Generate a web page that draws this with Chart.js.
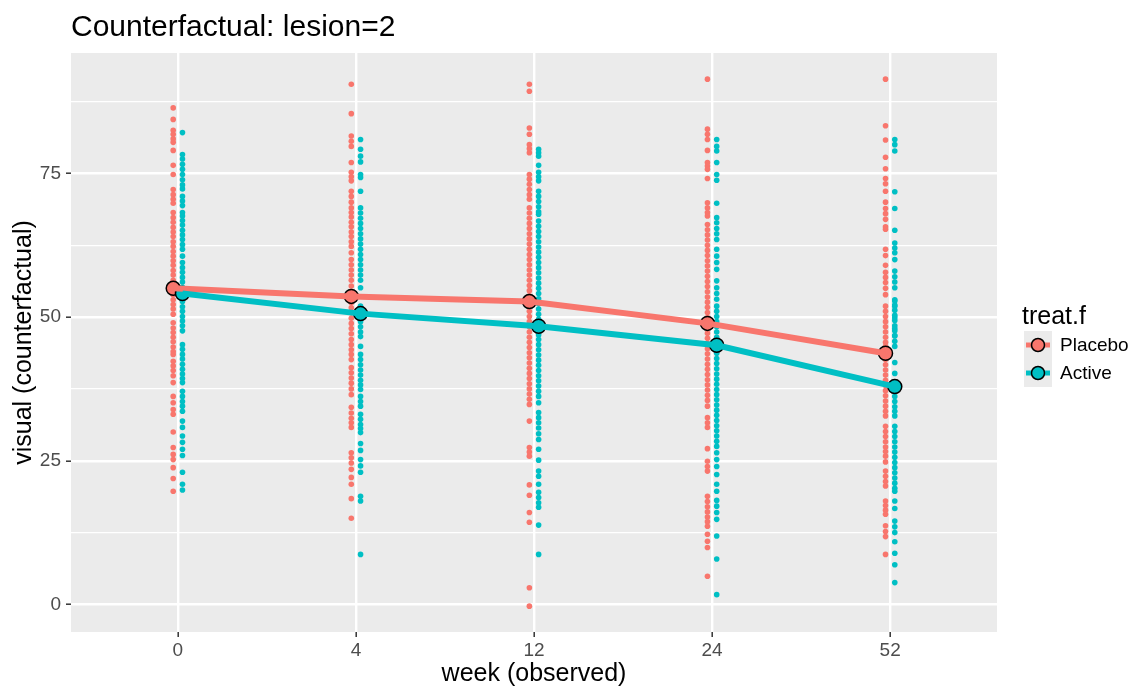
<!DOCTYPE html>
<html>
<head>
<meta charset="utf-8">
<script src="https://cdn.jsdelivr.net/npm/chart.js@4.4.1/dist/chart.umd.min.js"></script>
<style>
  html, body { margin: 0; padding: 0; background: #ffffff; }
</style>
</head>
<body>
<canvas id="chart" width="1139" height="687"></canvas>
<script>
// Categories and axis breaks
const weeks = ["0", "4", "12", "24", "52"]
const yBreaks = [0, 12.5, 25, 37.5, 50, 62.5, 75, 87.5]

// Individual visual scores per week
const placebo0 = [86.4, 84.4, 82.5, 81.8, 81.0, 80.4, 79.0, 76.4, 74.8, 72.2, 71.3, 70.5, 69.8, 68.2, 67.3, 66.5, 65.6, 64.8, 64.0, 63.1, 62.3, 61.4, 60.6, 59.8, 59.0, 58.1, 57.3, 56.4, 55.6, 54.7, 53.9, 53.0, 52.2, 51.4, 50.5, 49.0, 48.1, 47.3, 46.5, 45.7, 44.8, 44.0, 43.5, 42.3, 41.5, 40.7, 39.8, 38.6, 36.2, 35.1, 33.9, 33.1, 30.0, 27.3, 26.1, 25.2, 23.8, 21.9, 19.7]
const placebo4 = [90.5, 85.4, 81.5, 80.6, 79.7, 76.9, 75.2, 74.4, 73.7, 71.9, 71.0, 70.0, 69.0, 68.2, 67.4, 66.5, 65.7, 64.8, 64.0, 63.1, 62.3, 61.2, 60.0, 59.1, 58.2, 57.3, 56.4, 55.4, 54.3, 53.4, 52.5, 51.6, 50.7, 49.8, 48.9, 48.0, 47.1, 46.1, 45.2, 44.3, 43.5, 42.6, 41.2, 40.3, 39.4, 38.5, 37.5, 36.5, 34.3, 33.3, 32.4, 31.6, 30.8, 26.4, 25.5, 24.6, 23.5, 22.1, 20.9, 18.4, 15.0]
const placebo12 = [90.5, 89.3, 82.9, 81.8, 80.0, 79.3, 78.6, 74.8, 74.0, 73.1, 72.2, 71.3, 70.5, 69.0, 68.1, 67.2, 66.3, 65.4, 64.5, 63.6, 62.7, 61.8, 60.9, 60.0, 59.1, 58.2, 57.3, 56.4, 55.5, 54.6, 53.7, 52.8, 51.9, 51.0, 50.1, 49.2, 48.3, 47.4, 46.5, 45.6, 44.7, 43.8, 42.9, 42.0, 41.1, 40.2, 39.3, 38.4, 37.5, 36.6, 35.7, 34.8, 31.9, 27.3, 26.5, 25.8, 20.8, 19.0, 16.0, 14.3, 2.9, -0.3]
const placebo24 = [91.4, 82.7, 81.8, 80.9, 79.0, 76.9, 76.3, 75.7, 74.1, 69.9, 69.0, 68.2, 67.6, 66.1, 65.2, 64.3, 63.4, 62.5, 61.6, 60.7, 59.8, 58.9, 58.0, 57.1, 56.2, 55.3, 54.4, 53.5, 52.6, 51.7, 50.8, 49.9, 49.0, 48.1, 47.2, 46.3, 45.4, 44.5, 43.6, 42.7, 41.8, 40.9, 40.0, 39.1, 38.2, 37.3, 36.4, 35.5, 34.5, 32.5, 31.6, 30.8, 27.1, 24.9, 24.0, 23.2, 18.8, 17.9, 17.0, 16.1, 15.2, 14.4, 13.6, 12.2, 11.0, 9.9, 4.9]
const placebo52 = [91.4, 83.3, 80.8, 77.8, 75.8, 74.1, 73.2, 71.9, 70.0, 68.9, 68.0, 67.0, 65.7, 65.3, 61.8, 60.7, 59.0, 57.8, 56.9, 56.0, 55.0, 53.9, 51.9, 51.0, 50.1, 49.2, 48.3, 47.4, 46.5, 45.6, 44.9, 42.6, 41.7, 40.8, 39.9, 39.0, 38.1, 37.2, 36.3, 35.4, 34.5, 33.6, 32.8, 31.0, 30.1, 29.2, 28.3, 27.4, 26.6, 25.8, 24.8, 23.2, 22.3, 21.4, 20.6, 18.0, 17.2, 16.4, 15.7, 13.7, 12.7, 11.8, 8.7]

const active0 = [82.1, 78.3, 77.5, 76.6, 75.7, 74.8, 73.9, 73.0, 72.3, 71.0, 70.2, 69.4, 68.2, 67.6, 66.8, 66.0, 65.1, 64.3, 63.5, 62.6, 61.8, 60.6, 59.5, 58.6, 57.8, 56.9, 56.1, 55.2, 54.4, 53.5, 52.7, 51.8, 51.0, 50.1, 49.3, 48.5, 47.6, 45.2, 44.4, 43.5, 42.7, 41.8, 40.9, 40.1, 39.3, 38.6, 37.1, 36.2, 35.3, 34.5, 33.6, 31.9, 30.8, 29.3, 28.2, 27.0, 25.9, 23.0, 20.9, 19.9]
const active4 = [80.9, 79.2, 78.0, 77.0, 74.8, 74.3, 71.9, 69.0, 68.1, 67.2, 66.3, 65.4, 64.5, 63.6, 62.7, 61.8, 60.9, 60.0, 59.1, 58.2, 57.3, 56.4, 55.1, 51.9, 51.0, 50.1, 49.2, 48.3, 47.4, 46.6, 44.9, 43.5, 42.6, 41.7, 40.8, 39.9, 39.0, 38.2, 37.4, 36.2, 35.3, 34.5, 33.1, 32.2, 31.3, 30.6, 29.9, 28.0, 26.8, 25.2, 24.1, 23.0, 18.8, 18.0, 8.7]
const active12 = [79.2, 78.6, 78.0, 76.4, 75.2, 74.4, 73.7, 71.9, 71.0, 70.1, 69.2, 68.3, 67.9, 66.7, 65.8, 64.9, 64.0, 63.1, 62.2, 61.3, 60.4, 59.5, 58.6, 57.7, 56.8, 55.9, 55.0, 54.1, 53.2, 52.3, 51.4, 50.5, 49.6, 48.7, 47.8, 46.9, 46.1, 45.2, 44.3, 43.4, 42.5, 41.6, 40.7, 39.8, 38.9, 38.0, 37.1, 36.2, 35.1, 33.4, 32.5, 31.6, 30.7, 29.7, 28.7, 27.0, 25.1, 23.2, 22.3, 20.9, 19.5, 18.6, 17.7, 16.9, 13.8, 8.7]
const active24 = [80.9, 79.7, 78.9, 76.9, 74.8, 73.8, 69.8, 67.3, 66.4, 65.4, 64.5, 63.5, 61.8, 60.6, 59.5, 58.3, 56.3, 55.1, 54.1, 53.1, 51.9, 51.0, 50.1, 49.2, 48.3, 47.4, 46.5, 45.5, 44.6, 43.7, 42.8, 41.9, 41.0, 40.1, 39.2, 38.3, 37.4, 36.5, 35.6, 34.7, 33.8, 32.9, 32.0, 31.1, 30.2, 29.3, 28.4, 27.5, 26.4, 25.2, 24.0, 22.6, 20.9, 19.7, 18.1, 17.1, 16.0, 14.8, 11.9, 7.9, 1.7]
const active52 = [80.9, 80.0, 78.9, 71.8, 68.9, 65.1, 62.9, 62.0, 61.2, 60.0, 58.0, 57.0, 56.1, 55.1, 53.0, 52.8, 52.1, 51.9, 51.2, 50.3, 49.9, 49.4, 48.5, 48.0, 47.6, 46.8, 46.7, 45.8, 44.9, 42.1, 40.2, 36.2, 35.3, 34.4, 33.6, 32.8, 31.0, 30.1, 29.2, 28.3, 27.4, 26.5, 25.6, 24.7, 23.8, 22.9, 22.0, 21.1, 20.2, 19.7, 18.0, 16.7, 14.5, 13.5, 12.5, 10.9, 8.9, 6.9, 3.8]

// Group means per week
const placeboMean = [55.0, 53.6, 52.7, 48.9, 43.7]
const activeMean = [54.1, 50.6, 48.4, 45.1, 37.9]

const PLACEBO = "#F8766D"
const ACTIVE = "#00BFC4"
const PANEL = "#EBEBEB"
const FONT = "'Liberation Sans', Arial, Helvetica, sans-serif"
const dodge = 0.026

function columnPoints(cols, shift) {
  return cols.flatMap((vals, i) => vals.map((v) => ({ x: i + shift, y: v })))
}

function meanPoints(means, shift) {
  return means.map((v, i) => ({ x: i + shift, y: v }))
}

// grey panel behind the grid
const panelBg = {
  id: "panelBg",
  beforeDraw(chart) {
    const { ctx, chartArea: a } = chart
    ctx.save()
    ctx.fillStyle = PANEL
    ctx.fillRect(a.left, a.top, a.right - a.left, a.bottom - a.top)
    ctx.restore()
  },
}

// ggplot-like legend on the right
const ggLegend = {
  id: "ggLegend",
  afterDraw(chart) {
    const { ctx, chartArea: a } = chart
    const mid = (a.top + a.bottom) / 2
    const x0 = a.right + 27
    const keyTop = mid - 11.5
    const key = 28
    ctx.save()
    ctx.fillStyle = "#000000"
    ctx.font = "25px " + FONT
    ctx.textBaseline = "alphabetic"
    ctx.fillText("treat.f", a.right + 25, mid - 19)

    const items = [
      { label: "Placebo", color: PLACEBO },
      { label: "Active", color: ACTIVE },
    ]
    items.forEach((item, i) => {
      const top = keyTop + i * key
      const cy = top + key / 2
      ctx.fillStyle = PANEL
      ctx.fillRect(x0, top, key, key)
      ctx.strokeStyle = item.color
      ctx.lineWidth = 5
      ctx.beginPath()
      ctx.moveTo(x0 + 2, cy)
      ctx.lineTo(x0 + key - 2, cy)
      ctx.stroke()
      ctx.beginPath()
      ctx.arc(x0 + key / 2, cy, 6.5, 0, Math.PI * 2)
      ctx.fillStyle = item.color
      ctx.fill()
      ctx.strokeStyle = "#000000"
      ctx.lineWidth = 1.5
      ctx.stroke()
      ctx.fillStyle = "#000000"
      ctx.font = "19px " + FONT
      ctx.textBaseline = "middle"
      ctx.fillText(item.label, x0 + key + 8, cy + 1)
    })
    ctx.restore()
  },
}

const ctx = document.getElementById("chart").getContext("2d")
new Chart(ctx, {
  type: "scatter",
  data: {
    datasets: [
      {
        label: "Active",
        data: meanPoints(activeMean, dodge),
        showLine: true,
        borderColor: ACTIVE,
        borderWidth: 6,
        pointRadius: 0,
        tension: 0,
        order: 1,
      },
      {
        label: "Placebo",
        data: meanPoints(placeboMean, -dodge),
        showLine: true,
        borderColor: PLACEBO,
        borderWidth: 6,
        pointRadius: 0,
        tension: 0,
        order: 2,
      },
      {
        label: "Active mean",
        data: meanPoints(activeMean, dodge),
        backgroundColor: ACTIVE,
        borderColor: "#000000",
        borderWidth: 1.5,
        pointRadius: 7,
        order: 3,
      },
      {
        label: "Placebo mean",
        data: meanPoints(placeboMean, -dodge),
        backgroundColor: PLACEBO,
        borderColor: "#000000",
        borderWidth: 1.5,
        pointRadius: 7,
        order: 4,
      },
      {
        label: "Active obs",
        data: columnPoints([active0, active4, active12, active24, active52], dodge),
        backgroundColor: ACTIVE,
        borderWidth: 0,
        pointRadius: 2.8,
        order: 5,
      },
      {
        label: "Placebo obs",
        data: columnPoints([placebo0, placebo4, placebo12, placebo24, placebo52], -dodge),
        backgroundColor: PLACEBO,
        borderWidth: 0,
        pointRadius: 2.8,
        order: 6,
      },
    ],
  },
  options: {
    responsive: false,
    devicePixelRatio: 1,
    animation: false,
    events: [],
    layout: {
      padding: { left: 0, right: 142, top: 0, bottom: 0 },
    },
    plugins: {
      legend: { display: false },
      tooltip: { enabled: false },
      title: {
        display: true,
        text: "Counterfactual: lesion=2",
        align: "start",
        fullSize: false,
        color: "#000000",
        font: { family: FONT, size: 30, weight: "normal", lineHeight: 1.2 },
        padding: { top: 10, bottom: 7 },
      },
    },
    scales: {
      x: {
        type: "linear",
        min: -0.6,
        max: 4.6,
        afterBuildTicks: (scale) => {
          scale.ticks = weeks.map((_, i) => ({ value: i }))
        },
        afterFit: (scale) => {
          scale.height = 55
        },
        ticks: {
          callback: (value, index) => weeks[index],
          color: "#4D4D4D",
          font: { family: FONT, size: 19 },
          padding: 2,
          maxRotation: 0,
          autoSkip: false,
        },
        grid: {
          color: "#FFFFFF",
          lineWidth: 2.4,
          tickColor: "#333333",
          tickLength: 5,
          tickWidth: 1.5,
        },
        border: { display: false },
        title: {
          display: true,
          text: "week (observed)",
          color: "#000000",
          font: { family: FONT, size: 25, lineHeight: 1 },
          padding: { top: 0, bottom: 0 },
        },
      },
      y: {
        type: "linear",
        min: -4.8,
        max: 95.95,
        afterBuildTicks: (scale) => {
          scale.ticks = yBreaks.map((v) => ({ value: v }))
        },
        afterFit: (scale) => {
          scale.width = 71
        },
        ticks: {
          callback: (value) => (value % 25 === 0 ? String(value) : ""),
          color: "#4D4D4D",
          font: { family: FONT, size: 19 },
          padding: 5,
          autoSkip: false,
        },
        grid: {
          color: "#FFFFFF",
          lineWidth: (c) => (c.tick && c.tick.value % 25 === 0 ? 2.4 : 1.2),
          tickColor: (c) =>
            c.tick && c.tick.value % 25 === 0 ? "#333333" : "rgba(0,0,0,0)",
          tickLength: 5,
          tickWidth: 1.5,
        },
        border: { display: false },
        title: {
          display: true,
          text: "visual (counterfactual)",
          color: "#000000",
          font: { family: FONT, size: 25, lineHeight: 1 },
          padding: { top: 12, bottom: 0 },
        },
      },
    },
  },
  plugins: [panelBg, ggLegend],
})
</script>
</body>
</html>
